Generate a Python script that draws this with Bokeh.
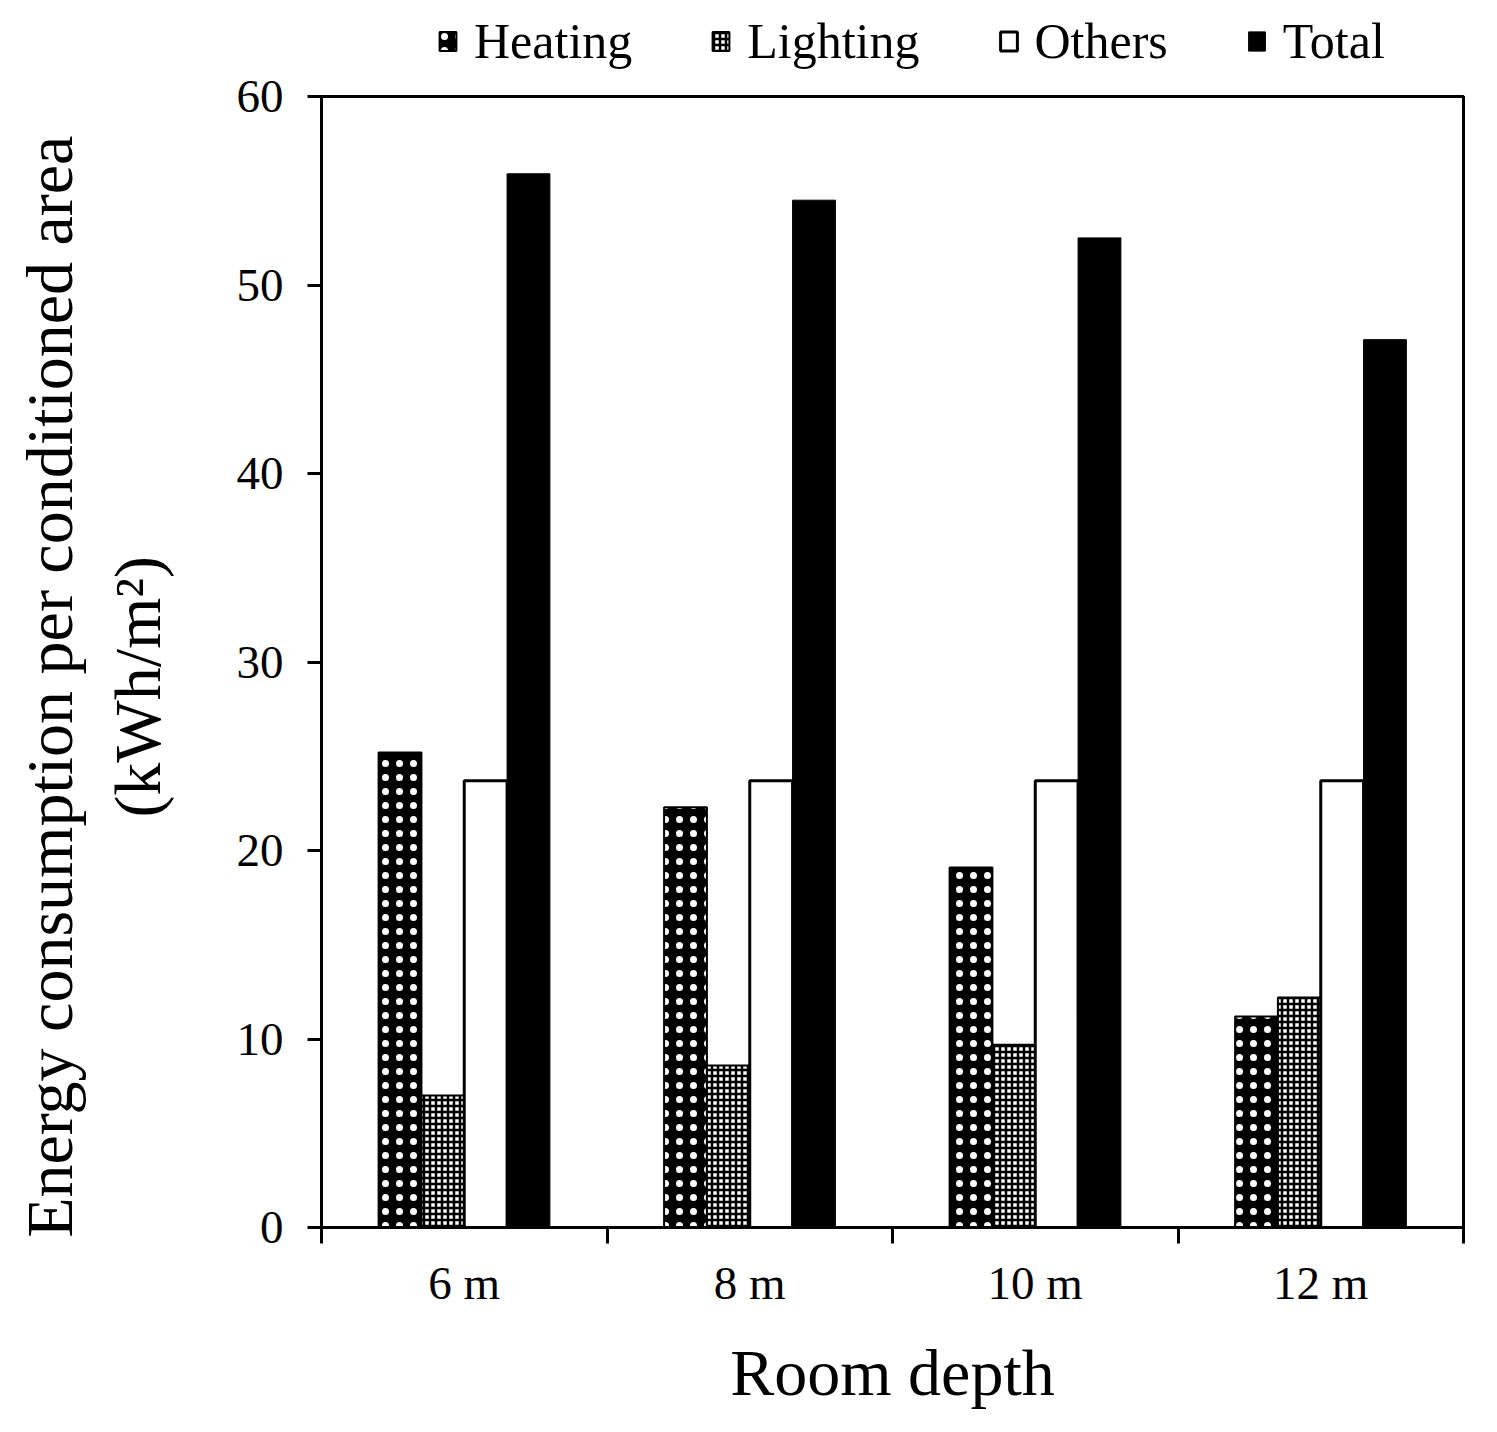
import numpy as np
from bokeh.plotting import figure
from bokeh.layouts import column
from bokeh.models import Range1d, FixedTicker, Legend, LegendItem, ColumnDataSource
from bokeh.embed import file_html
from bokeh.resources import INLINE

categories = ["6 m", "8 m", "10 m", "12 m"]
heating = [25.2, 22.3, 19.1, 11.2]
lighting = [7.0, 8.6, 9.7, 12.2]
others = [23.7, 23.7, 23.7, 23.7]
total = [55.9, 54.5, 52.5, 47.1]
y_ticks = [0, 10, 20, 30, 40, 50, 60]
series_names = ["Heating", "Lighting", "Others", "Total"]

FONT = "Liberation Serif"
PAD = "\u00a0\u00a0\u00a0"

centers = np.arange(1, len(categories) + 1)
bw = 0.15
offs = [-0.225, -0.075, 0.075, 0.225]

styles = [
    dict(fill_color="black", line_color="black", line_width=2,
         hatch_pattern="dot", hatch_color="white", hatch_scale=14),
    dict(fill_color="white", line_color="black", line_width=2,
         hatch_pattern="cross", hatch_color="black", hatch_scale=6, hatch_weight=2.5),
    dict(fill_color="white", line_color="black", line_width=3),
    dict(fill_color="black", line_color="black", line_width=1),
]

src = ColumnDataSource(dict(
    xh=centers + offs[0], xl=centers + offs[1], xo=centers + offs[2], xt=centers + offs[3],
    heating=heating, lighting=lighting, others=others, total=total))
xcols = ["xh", "xl", "xo", "xt"]
ycols = ["heating", "lighting", "others", "total"]

p = figure(width=1480, height=1344,
           x_range=Range1d(0.5, len(categories) + 0.5), y_range=Range1d(0, 60),
           output_backend="svg", toolbar_location=None, title=None,
           min_border_left=321, min_border_top=26, min_border_right=17, min_border_bottom=187)
p.grid.visible = False
p.background_fill_color = "white"
p.border_fill_color = "white"
p.outline_line_color = "black"
p.outline_line_width = 3

for xcol, ycol, st in zip(xcols, ycols, styles):
    p.vbar(x=xcol, top=ycol, bottom=0, width=bw, source=src, **st)

# x axis
xa = p.xaxis[0]
xa.ticker = FixedTicker(ticks=list(centers), minor_ticks=list(np.arange(0.5, len(categories) + 1, 1.0)))
xa.major_label_overrides = {int(c): lab for c, lab in zip(centers, categories)}
xa.major_tick_line_color = None
xa.major_tick_out = 0
xa.major_tick_in = 0
xa.minor_tick_out = 16
xa.minor_tick_in = 0
xa.minor_tick_line_width = 3
xa.minor_tick_line_color = "black"
xa.axis_line_width = 3
xa.axis_line_color = "black"
xa.major_label_text_font = FONT
xa.major_label_text_font_size = "47px"
xa.major_label_text_color = "black"
xa.major_label_standoff = 13
xa.axis_label = "Room depth"
xa.axis_label_text_font = FONT
xa.axis_label_text_font_size = "66px"
xa.axis_label_text_font_style = "normal"
xa.axis_label_text_color = "black"
xa.axis_label_standoff = 24

# y axis
ya = p.yaxis[0]
ya.ticker = FixedTicker(ticks=y_ticks)
ya.minor_tick_line_color = None
ya.major_tick_out = 14
ya.major_tick_in = 0
ya.major_tick_line_width = 3
ya.major_tick_line_color = "black"
ya.axis_line_width = 3
ya.axis_line_color = "black"
ya.major_label_text_font = FONT
ya.major_label_text_font_size = "47px"
ya.major_label_text_color = "black"
ya.major_label_standoff = 24
ya.axis_label = "Energy consumption per conditioned area" + PAD + "\n(kWh/m\u00b2)" + PAD
ya.axis_label_text_font = FONT
ya.axis_label_text_font_size = "66px"
ya.axis_label_text_font_style = "normal"
ya.axis_label_text_color = "black"
ya.axis_label_standoff = 60

# legend strip above the chart (its frame is aligned with the chart's frame)
pl = figure(width=1480, height=70, x_range=Range1d(0.5, len(categories) + 0.5), y_range=Range1d(100, 101),
            output_backend="svg", toolbar_location=None, title=None,
            min_border=0, min_border_left=321, min_border_right=17, min_border_top=0, min_border_bottom=0)
pl.axis.visible = False
pl.grid.visible = False
pl.outline_line_color = None
pl.background_fill_color = "white"
pl.border_fill_color = "white"
items = []
for name, xcol, ycol, st in zip(series_names, xcols, ycols, styles):
    r = pl.vbar(x=xcol, top=ycol, bottom=0, width=bw, source=src, **st)
    r.visible = False
    items.append(LegendItem(label=name, renderers=[r]))

legend = Legend(items=items, orientation="horizontal", location=(116, 0),
                label_text_font=FONT, label_text_font_size="50px", label_text_color="black",
                label_text_line_height=1.0, inactive_fill_alpha=0,
                glyph_width=21, glyph_height=24, spacing=78, label_standoff=16,
                border_line_color=None, background_fill_alpha=0, padding=0, margin=0)
pl.add_layout(legend, "center")

layout = column(pl, p, spacing=0)
open("out.html", "w").write(file_html(layout, INLINE))
